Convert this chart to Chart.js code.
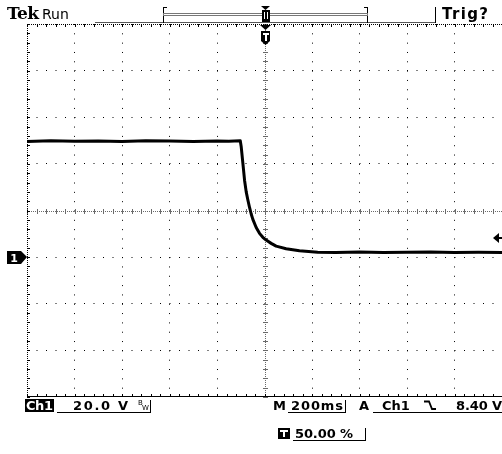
<!DOCTYPE html>
<html>
<head>
<meta charset="utf-8">
<script src="https://cdn.jsdelivr.net/npm/chart.js@4.4.0/dist/chart.umd.min.js"></script>
<style>
html, body { margin: 0; padding: 0; background: #fff; }
canvas { display: block; }
</style>
</head>
<body>
<canvas id="scope" width="502" height="454"></canvas>
<script>
// CH1 trace: time in ms (trigger at 0), volts
var traceTime = [-1000, -900, -800, -700, -600, -500, -400, -300, -200, -150, -102, -98, -91, -84, -77, -70, -63, -56, -49, -35, -21, -7, 7, 28, 49, 91, 147, 224, 300, 400, 500, 600, 700, 800, 900, 1000];
var traceVolt = [49.6, 49.9, 49.7, 49.8, 49.6, 49.9, 49.8, 49.6, 49.8, 49.7, 49.9, 47.3, 40.2, 33.0, 28.0, 24.5, 21.3, 18.5, 16.2, 12.7, 10.2, 8.5, 7.3, 5.9, 4.7, 3.6, 2.7, 2.1, 2.0, 2.2, 2.0, 2.1, 2.2, 2.0, 2.1, 2.0];

// graticule: 10 x 8 divisions, 5 minor per division
var timeTicks = [-1000, -800, -600, -400, -200, 0, 200, 400, 600, 800, 1000];
var voltTicks = [-60, -40, -20, 0, 20, 40, 60, 80, 100];
var minorPerDiv = 5;

// status readouts
var chLabel = "Ch1";
var voltsDiv = "20.0 V";
var timeDiv = "200ms";
var trigSource = "Ch1";
var trigLevel = 8.40;
var trigLevelText = "8.40 V";
var trigPosText = "50.00 %";

var points = traceTime.map(function (t, i) {
  return { x: t, y: traceVolt[i] };
});

// texte étiré sur une largeur donnée
function fitText(ctx, s, x, y, w) {
  ctx.letterSpacing = "0px";
  var nat = ctx.measureText(s).width;
  var sp = s.length > 1 ? (w - nat) / (s.length - 1) : 0;
  ctx.letterSpacing = sp + "px";
  ctx.fillText(s, x, y);
  ctx.letterSpacing = "0px";
}

function hLine(ctx, x1, x2, y) {
  ctx.beginPath();
  ctx.moveTo(x1, y);
  ctx.lineTo(x2, y);
  ctx.stroke();
}
function vLine(ctx, x, y1, y2) {
  ctx.beginPath();
  ctx.moveTo(x, y1);
  ctx.lineTo(x, y2);
  ctx.stroke();
}

var graticulePlugin = {
  id: "graticule",
  beforeDatasetsDraw: function (chart) {
    var ctx = chart.ctx;
    var xs = chart.scales.x;
    var ys = chart.scales.y;
    var a = chart.chartArea;
    var x0 = Math.round(xs.getPixelForValue(0)) + 0.5;
    var y0 = Math.round(ys.getPixelForValue(20)) + 0.5;
    var xStep = (timeTicks[1] - timeTicks[0]) / minorPerDiv;
    var yStep = (voltTicks[1] - voltTicks[0]) / minorPerDiv;
    var i, p;
    ctx.save();
    ctx.lineWidth = 1;

    // centre cross, fine dots + small ticks
    ctx.strokeStyle = "#6a6a6a";
    ctx.setLineDash([1, 1]);
    vLine(ctx, x0, a.top, a.bottom);
    hLine(ctx, a.left, a.right, y0);
    ctx.setLineDash([]);
    for (i = voltTicks[0]; i <= voltTicks[voltTicks.length - 1]; i += yStep) {
      p = Math.round(ys.getPixelForValue(i)) + 0.5;
      hLine(ctx, x0 - 2.5, x0 + 2.5, p);
    }
    for (i = timeTicks[0]; i <= timeTicks[timeTicks.length - 1]; i += xStep) {
      p = Math.round(xs.getPixelForValue(i)) + 0.5;
      vLine(ctx, p, y0 - 2.5, y0 + 2.5);
    }

    // bords
    ctx.strokeStyle = "#000";
    ctx.setLineDash([1, 1]);
    vLine(ctx, a.left + 0.5, a.top, a.bottom);
    hLine(ctx, a.left, a.right, a.top + 0.5);
    ctx.setLineDash([]);
    hLine(ctx, a.left, a.right, a.bottom - 0.5);
    for (i = voltTicks[0]; i <= voltTicks[voltTicks.length - 1]; i += yStep) {
      p = Math.round(ys.getPixelForValue(i)) + 0.5;
      hLine(ctx, a.left, a.left + 3, p);
    }
    for (i = timeTicks[0]; i <= timeTicks[timeTicks.length - 1]; i += xStep) {
      p = Math.round(xs.getPixelForValue(i)) + 0.5;
      vLine(ctx, p, a.top, a.top + 3);
      vLine(ctx, p, a.bottom - 3, a.bottom);
    }
    ctx.restore();
  },
  afterDraw: function (chart) {
    var ctx = chart.ctx;
    var xs = chart.scales.x;
    var ys = chart.scales.y;
    var tx = Math.round(xs.getPixelForValue(0));
    var gy = Math.round(ys.getPixelForValue(0));
    var ty = Math.round(ys.getPixelForValue(trigLevel));
    ctx.save();
    ctx.fillStyle = "#000";
    ctx.strokeStyle = "#000";
    ctx.lineWidth = 1;
    ctx.textBaseline = "alphabetic";

    // en-tête
    ctx.font = "bold 17px DejaVu Serif";
    fitText(ctx, "Tek", 7, 19, 32);
    ctx.font = "14px DejaVu Sans";
    ctx.fillText("Run", 42, 19);
    ctx.font = "bold 15px DejaVu Sans";
    fitText(ctx, "Trig?", 442, 19, 46);
    ctx.strokeStyle = "#555";
    hLine(ctx, 95, 435, 22.5);
    ctx.strokeStyle = "#000";
    vLine(ctx, 435.5, 7, 23);
    // record bracket
    vLine(ctx, 163.5, 7, 23);
    hLine(ctx, 163, 167, 7.5);
    vLine(ctx, 367.5, 7, 23);
    hLine(ctx, 364, 368, 7.5);
    ctx.strokeStyle = "#777";
    ctx.strokeRect(163.5, 13.5, 204, 2);
    // trigger position marker (top)
    ctx.fillStyle = "#000";
    ctx.beginPath();
    ctx.moveTo(tx - 4, 6); ctx.lineTo(tx + 5, 6); ctx.lineTo(tx + 0.5, 10); ctx.closePath(); ctx.fill();
    ctx.fillRect(tx - 3, 10, 8, 12);
    ctx.fillStyle = "#fff";
    ctx.fillRect(tx - 1, 12, 1, 7);
    ctx.fillRect(tx + 2, 12, 1, 7);
    ctx.fillStyle = "#000";
    ctx.beginPath();
    ctx.moveTo(tx - 5, 25); ctx.lineTo(tx + 6, 25); ctx.lineTo(tx + 0.5, 30); ctx.closePath(); ctx.fill();
    // T shield
    ctx.beginPath();
    ctx.moveTo(tx - 4, 31); ctx.lineTo(tx + 5, 31); ctx.lineTo(tx + 5, 41);
    ctx.lineTo(tx + 0.5, 45); ctx.lineTo(tx - 4, 41); ctx.closePath(); ctx.fill();
    ctx.fillStyle = "#fff";
    ctx.fillRect(tx - 2, 33, 6, 2);
    ctx.fillRect(tx, 33, 2, 8);

    // ground marker 1
    ctx.fillStyle = "#000";
    ctx.beginPath();
    ctx.moveTo(7, gy - 6); ctx.lineTo(21, gy - 6); ctx.lineTo(27, gy);
    ctx.lineTo(21, gy + 7); ctx.lineTo(7, gy + 7); ctx.closePath(); ctx.fill();
    ctx.fillStyle = "#fff";
    ctx.font = "bold 11px DejaVu Sans";
    ctx.textAlign = "center";
    ctx.fillText("1", 14, gy + 5);
    ctx.textAlign = "left";

    // trigger level arrow
    ctx.fillStyle = "#000";
    ctx.beginPath();
    ctx.moveTo(493, ty); ctx.lineTo(499, ty - 5); ctx.lineTo(499, ty + 5); ctx.closePath(); ctx.fill();
    ctx.fillRect(498, ty - 1, 4, 2);

    // ligne d'état
    var by = 410;
    ctx.fillStyle = "#000";
    ctx.fillRect(25, 399, 29, 13);
    ctx.fillStyle = "#fff";
    ctx.font = "bold 13px DejaVu Sans";
    fitText(ctx, chLabel, 26, by, 27);
    ctx.fillStyle = "#000";
    fitText(ctx, voltsDiv, 73, by, 55);
    ctx.font = "7px DejaVu Sans";
    ctx.fillText("B", 138, 405);
    ctx.fillText("W", 142, 410);
    ctx.strokeStyle = "#000";
    hLine(ctx, 57, 151, 412.5);
    vLine(ctx, 150.5, 400, 413);

    ctx.font = "bold 13px DejaVu Sans";
    ctx.fillText("M", 273, by);
    fitText(ctx, timeDiv, 291, by, 52);
    hLine(ctx, 288, 346, 412.5);
    vLine(ctx, 345.5, 400, 413);
    ctx.fillText("A", 359, by);
    ctx.fillText(trigSource, 382, by);
    hLine(ctx, 373, 502, 412.5);
    // falling edge symbol
    ctx.lineWidth = 1.8;
    ctx.beginPath();
    ctx.moveTo(424, 401.5); ctx.lineTo(429, 401.5); ctx.lineTo(432, 409); ctx.lineTo(436, 409);
    ctx.stroke();
    ctx.lineWidth = 1;
    fitText(ctx, trigLevelText, 456, by, 46);

    // position du trigger
    var ry = 438;
    ctx.fillRect(278, 428, 12, 11);
    ctx.fillStyle = "#fff";
    ctx.fillRect(280, 430, 8, 2);
    ctx.fillRect(283, 430, 2, 7);
    ctx.fillStyle = "#000";
    fitText(ctx, trigPosText, 295, ry, 58);
    hLine(ctx, 293, 366, 440.5);
    vLine(ctx, 365.5, 428, 441);
    ctx.restore();
  }
};

var scope = new Chart(document.getElementById("scope"), {
  type: "line",
  data: {
    datasets: [
      {
        label: "CH1",
        data: points,
        borderColor: "#000",
        borderWidth: 3,
        borderJoinStyle: "round",
        pointRadius: 0,
        tension: 0,
        fill: false,
      },
    ],
  },
  options: {
    responsive: false,
    animation: false,
    devicePixelRatio: 1,
    layout: { padding: { left: 27, top: 24, right: 0, bottom: 57 } },
    plugins: { legend: { display: false }, tooltip: { enabled: false } },
    scales: {
      x: {
        type: "linear",
        min: timeTicks[0],
        max: timeTicks[timeTicks.length - 1],
        afterBuildTicks: function (s) {
          s.ticks = timeTicks.map(function (v) { return { value: v }; });
        },
        ticks: { display: false },
        grid: {
          drawTicks: false,
          lineWidth: 1,
          color: function (c) {
            var v = c.tick ? c.tick.value : null;
            return v === 0 || v === timeTicks[0] || v === timeTicks[timeTicks.length - 1] ? "rgba(0,0,0,0)" : "#000";
          },
          borderDash: [1, 8.325],
        },
        border: { display: false, dash: [1, 8.325] },
      },
      y: {
        type: "linear",
        min: voltTicks[0],
        max: voltTicks[voltTicks.length - 1],
        afterBuildTicks: function (s) {
          s.ticks = voltTicks.map(function (v) { return { value: v }; });
        },
        ticks: { display: false },
        grid: {
          drawTicks: false,
          lineWidth: 1,
          color: function (c) {
            var v = c.tick ? c.tick.value : null;
            return v === 20 || v === voltTicks[0] || v === voltTicks[voltTicks.length - 1] ? "rgba(0,0,0,0)" : "#000";
          },
          borderDash: [1, 8.5],
        },
        border: { display: false, dash: [1, 8.5] },
      },
    },
  },
  plugins: [graticulePlugin],
});
</script>
</body>
</html>
